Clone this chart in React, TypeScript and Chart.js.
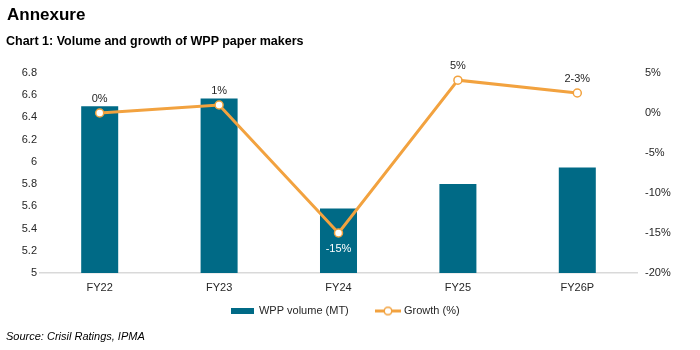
import React, { useEffect, useRef } from "react";
import { Chart, registerables } from "chart.js";

Chart.register(...registerables);

// ---- data ----
const categories = ["FY22", "FY23", "FY24", "FY25", "FY26P"];
const volumeMT = [6.5, 6.57, 5.58, 5.8, 5.95];
const growthPct = [0, 1, -15, 4.1, 2.5];
const growthLabels = ["0%", "1%", "-15%", "5%", "2-3%"];
const volumeAxis = [5, 6.8, 0.2]; // min, max, step
const growthAxis = [-20, 5, 5]; // min, max, step
const seriesNames = ["WPP volume (MT)", "Growth (%)"];

const TEAL = "#006A86";
const ORANGE = "#F2A23F";
const TEXT = "#262626";
const FONT = "Arial, 'Liberation Sans', sans-serif";

function makeBarSwatch() {
  const c = document.createElement("canvas");
  c.width = 23;
  c.height = 6;
  const g = c.getContext("2d")!;
  g.fillStyle = TEAL;
  g.fillRect(0, 0, 23, 6);
  return c;
}

function makeLineSwatch() {
  const c = document.createElement("canvas");
  c.width = 26;
  c.height = 11;
  const g = c.getContext("2d")!;
  g.strokeStyle = ORANGE;
  g.lineWidth = 3;
  g.beginPath();
  g.moveTo(0, 5.5);
  g.lineTo(26, 5.5);
  g.stroke();
  g.beginPath();
  g.arc(13, 5.5, 3.8, 0, Math.PI * 2);
  g.fillStyle = "#fff";
  g.fill();
  g.lineWidth = 1.5;
  g.stroke();
  return c;
}

const pointLabelPlugin = {
  id: "pointLabels",
  afterDatasetsDraw(chart: any) {
    const meta = chart.getDatasetMeta(1);
    const ctx = chart.ctx;
    ctx.save();
    ctx.font = `11px ${FONT}`;
    ctx.textAlign = "center";
    ctx.textBaseline = "middle";
    meta.data.forEach((pt: any, i: number) => {
      const neg = growthPct[i] < 0;
      ctx.fillStyle = neg ? "#ffffff" : TEXT;
      ctx.fillText(growthLabels[i], pt.x, neg ? pt.y + 16 : pt.y - 14);
    });
    ctx.restore();
  },
};

// lift the legend so its row sits just below the category labels
const legendShiftPlugin = {
  id: "legendShift",
  afterLayout(chart: any) {
    const lg = chart.legend;
    if (!lg) return;
    const target = 276.8;
    const d = lg.top - target;
    lg.top -= d;
    lg.bottom -= d;
  },
};

export default function App() {
  const ref = useRef<HTMLCanvasElement | null>(null);

  useEffect(() => {
    if (!ref.current) return;
    const barImg = makeBarSwatch();
    const lineImg = makeLineSwatch();
    const chart = new Chart(ref.current, {
      data: {
        labels: categories,
        datasets: [
          {
            type: "bar",
            label: seriesNames[0],
            data: volumeMT,
            backgroundColor: TEAL,
            yAxisID: "y",
            barPercentage: 0.31,
            categoryPercentage: 1,
            order: 1,
          },
          {
            type: "line",
            label: seriesNames[1],
            data: growthPct,
            borderColor: ORANGE,
            borderWidth: 3,
            pointRadius: 4,
            pointBorderWidth: 1.5,
            pointBackgroundColor: "#ffffff",
            pointBorderColor: ORANGE,
            tension: 0,
            yAxisID: "y1",
            order: 0,
          },
        ],
      } as any,
      options: {
        animation: false,
        responsive: false,
        maintainAspectRatio: false,
        layout: { padding: { top: 73, left: 0, right: 8, bottom: 5.3 } },
        plugins: {
          tooltip: { enabled: false },
          legend: {
            position: "bottom",
            labels: {
              usePointStyle: true,
              pointStyleWidth: 21,
              padding: 28.7,
              color: TEXT,
              font: { family: FONT, size: 11 },
              generateLabels: () => [
                {
                  text: seriesNames[0],
                  pointStyle: barImg,
                  fillStyle: TEAL,
                  strokeStyle: TEAL,
                  lineWidth: 0,
                  hidden: false,
                  datasetIndex: 0,
                  fontColor: TEXT,
                },
                {
                  text: seriesNames[1],
                  pointStyle: lineImg,
                  fillStyle: "#fff",
                  strokeStyle: ORANGE,
                  lineWidth: 0,
                  hidden: false,
                  datasetIndex: 1,
                  fontColor: TEXT,
                },
              ],
            },
          },
        },
        scales: {
          x: {
            offset: true,
            grid: { display: false, drawTicks: false },
            border: { display: true, color: "#D9D9D9", width: 1.5 },
            ticks: { color: TEXT, font: { family: FONT, size: 11 }, padding: 8, maxRotation: 0 },
            afterFit: (s: any) => {
              s.height = 22;
            },
          },
          y: {
            position: "left",
            min: volumeAxis[0],
            max: volumeAxis[1],
            grid: { display: false, drawTicks: false },
            border: { display: false },
            ticks: {
              stepSize: volumeAxis[2],
              padding: 3,
              color: TEXT,
              font: { family: FONT, size: 11 },
              callback: (v: any) => String(Number(Number(v).toFixed(1))),
            },
            afterFit: (s: any) => {
              s.width = 40;
            },
          },
          y1: {
            position: "right",
            min: growthAxis[0],
            max: growthAxis[1],
            grid: { display: false, drawTicks: false },
            border: { display: false },
            ticks: {
              stepSize: growthAxis[2],
              padding: 8,
              color: TEXT,
              font: { family: FONT, size: 11 },
              callback: (v: any) => `${v}%`,
            },
            afterFit: (s: any) => {
              s.width = 55;
            },
          },
        },
      } as any,
      plugins: [pointLabelPlugin, legendShiftPlugin],
    });
    return () => chart.destroy();
  }, []);

  const base: React.CSSProperties = {
    position: "absolute",
    margin: 0,
    whiteSpace: "nowrap",
    fontFamily: FONT,
    color: "#000",
  };

  return (
    <div style={{ position: "fixed", left: 0, top: 0, width: 700, height: 350, background: "#fff", overflow: "hidden" }}>
      <canvas ref={ref} width={700} height={350} style={{ position: "absolute", left: 0, top: 0, width: 700, height: 350 }} />
      <div style={{ ...base, left: 7, top: 5.6, fontSize: 17, lineHeight: "17px", fontWeight: "bold" }}>Annexure</div>
      <div style={{ ...base, left: 6, top: 35.1, fontSize: 12.5, lineHeight: "12.5px", fontWeight: "bold" }}>
        Chart 1: Volume and growth of WPP paper makers
      </div>
      <div style={{ ...base, left: 6, top: 330.7, fontSize: 11, lineHeight: "11px", fontStyle: "italic" }}>
        Source: Crisil Ratings, IPMA
      </div>
    </div>
  );
}
